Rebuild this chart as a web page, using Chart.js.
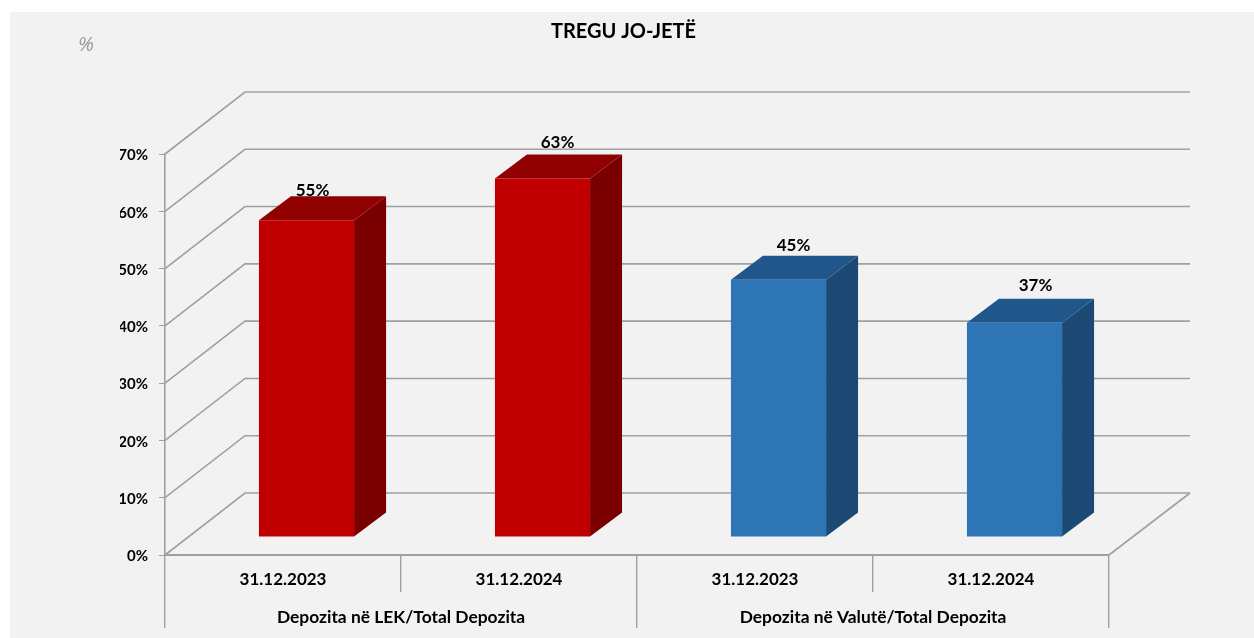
<!DOCTYPE html>
<html>
<head>
<meta charset="utf-8">
<style>
	html, body { margin: 0; padding: 0; background: #fff; overflow: hidden; }
	#panel { position: absolute; left: 10px; top: 12px; right: 0; bottom: 0; background: #f2f2f2; }
	canvas { position: absolute; left: 0; top: 0; }
</style>
<script src="https://cdn.jsdelivr.net/npm/chart.js@4/dist/chart.umd.js"></script>
</head>
<body>
<div id="panel"></div>
<canvas id="chart" width="1254" height="638"></canvas>
<script>
const dates = ['31.12.2023', '31.12.2024', '31.12.2023', '31.12.2024'];
const groups = ['Depozita në LEK/Total Depozita', 'Depozita në Valutë/Total Depozita'];
const values = [55.3, 62.6, 44.9, 37.4];

const front_colors = ['#c00000', '#c00000', '#2e75b6', '#2e75b6'];
const top_colors = ['#900000', '#900000', '#21568a', '#21568a'];
const side_colors = ['#7a0000', '#7a0000', '#1c4a75', '#1c4a75'];

// label offsets from the back top corner of each bar, the original was hand placed
const label_nudge_x = [6, 15, 15, 21];
const label_nudge_y = [-6, -12, -10, -13];

const font_name = 'Lato, Carlito, "Open Sans", sans-serif';
const line_color = '#a0a0a0';

// depth of the floor and where the bars stand in it
const wall = { dx: 80, dy: -62 };
const bar_plane = { dx: 23.5, dy: -18 };
const bar_depth = { dx: 32, dy: -24 };

const fake3d = {
	id: 'fake3d',
	afterLayout(chart) {
		// the title sits over the whole picture, not over the padded box
		chart.titleBlock.left = 138;
	},
	beforeDatasetsDraw(chart) {
		const { ctx, scales } = chart;
		const y = scales.y;
		const left = chart.chartArea.left;
		const right = chart.chartArea.right;
		ctx.save();
		ctx.strokeStyle = line_color;
		ctx.lineWidth = 1.6;
		y.ticks.forEach(function (tick) {
			const py = y.getPixelForValue(tick.value);
			ctx.beginPath();
			ctx.moveTo(left, py);
			ctx.lineTo(left + wall.dx, py + wall.dy);
			ctx.lineTo(right + wall.dx + 1, py + wall.dy);
			ctx.stroke();
		});
		const floor = y.getPixelForValue(0);
		ctx.beginPath();
		ctx.moveTo(right, floor);
		ctx.lineTo(right + wall.dx + 1, floor + wall.dy);
		ctx.stroke();
		ctx.restore();
	},
	beforeDatasetDraw(chart, args) {
		const { ctx } = chart;
		ctx.save();
		ctx.translate(bar_plane.dx, bar_plane.dy);
		args.meta.data.forEach(function (bar, i) {
			const r = bar.x + bar.width / 2;
			const l = bar.x - bar.width / 2;
			ctx.fillStyle = side_colors[i];
			ctx.beginPath();
			ctx.moveTo(r, bar.y);
			ctx.lineTo(r + bar_depth.dx, bar.y + bar_depth.dy);
			ctx.lineTo(r + bar_depth.dx, bar.base + bar_depth.dy);
			ctx.lineTo(r, bar.base);
			ctx.closePath();
			ctx.fill();
			ctx.fillStyle = top_colors[i];
			ctx.beginPath();
			ctx.moveTo(l, bar.y);
			ctx.lineTo(l + bar_depth.dx, bar.y + bar_depth.dy);
			ctx.lineTo(r + bar_depth.dx, bar.y + bar_depth.dy);
			ctx.lineTo(r, bar.y);
			ctx.closePath();
			ctx.fill();
		});
	},
	afterDatasetDraw(chart) {
		chart.ctx.restore();
	},
	afterDatasetsDraw(chart) {
		const { ctx } = chart;
		const meta = chart.getDatasetMeta(0);
		ctx.save();
		ctx.fillStyle = '#000';
		ctx.font = 'bold 17px ' + font_name;
		ctx.textAlign = 'center';
		ctx.textBaseline = 'middle';
		meta.data.forEach(function (bar, i) {
			const px = bar.x + bar_plane.dx + label_nudge_x[i];
			const py = bar.y + bar_plane.dy + bar_depth.dy + label_nudge_y[i];
			ctx.fillText(Math.round(values[i]) + '%', px, py);
		});
		ctx.fillStyle = '#999';
		ctx.font = 'italic 20px "Open Sans", sans-serif';
		ctx.fillText('%', 86, 45);
		ctx.restore();
	},
};

new Chart(document.getElementById('chart'), {
	type: 'bar',
	data: {
		labels: dates,
		datasets: [{
			data: values,
			backgroundColor: front_colors,
			borderWidth: 0,
			barPercentage: 0.403,
			categoryPercentage: 1,
			clip: false,
		}]
	},
	plugins: [fake3d],
	options: {
		responsive: false,
		animation: false,
		layout: {
			padding: { left: 120, right: 145, top: 20, bottom: 10 }
		},
		scales: {
			x: {
				offset: true,
				afterFit: function (axis) { axis.height = 37; },
				border: { color: line_color, width: 2 },
				grid: {
					offset: true,
					drawOnChartArea: false,
					tickLength: 37,
					color: line_color,
					lineWidth: 1.4,
				},
				ticks: {
					autoSkip: false,
					maxRotation: 0,
					padding: -23,
					color: '#000',
					font: { size: 17, weight: 'bold', family: font_name },
				}
			},
			x2: {
				type: 'category',
				position: 'bottom',
				labels: groups,
				offset: true,
				afterFit: function (axis) { axis.height = 36; },
				border: { display: false },
				grid: {
					offset: true,
					drawOnChartArea: false,
					tickLength: 36,
					color: line_color,
					lineWidth: 1.4,
				},
				ticks: {
					autoSkip: false,
					maxRotation: 0,
					padding: -21,
					color: '#000',
					font: { size: 17.4, weight: 'bold', family: font_name },
				}
			},
			y: {
				min: 0,
				max: 70,
				afterFit: function (axis) { axis.width = 45; },
				border: { color: line_color, width: 1.6 },
				grid: {
					drawOnChartArea: false,
					tickLength: 6,
					color: line_color,
				},
				ticks: {
					stepSize: 10,
					padding: 11,
					labelOffset: 1.5,
					color: '#000',
					font: { size: 15, weight: 'bold', family: font_name },
					callback: function (value) {
						return value + '%';
					},
				}
			}
		},
		plugins: {
			legend: { display: false },
			tooltip: { enabled: false },
			title: {
				display: true,
				text: 'TREGU JO-JETË',
				color: '#000',
				font: { size: 20, weight: 'bold', family: font_name },
				padding: { top: 0, bottom: 110 },
			},
		}
	}
});
</script>
</body>
</html>
